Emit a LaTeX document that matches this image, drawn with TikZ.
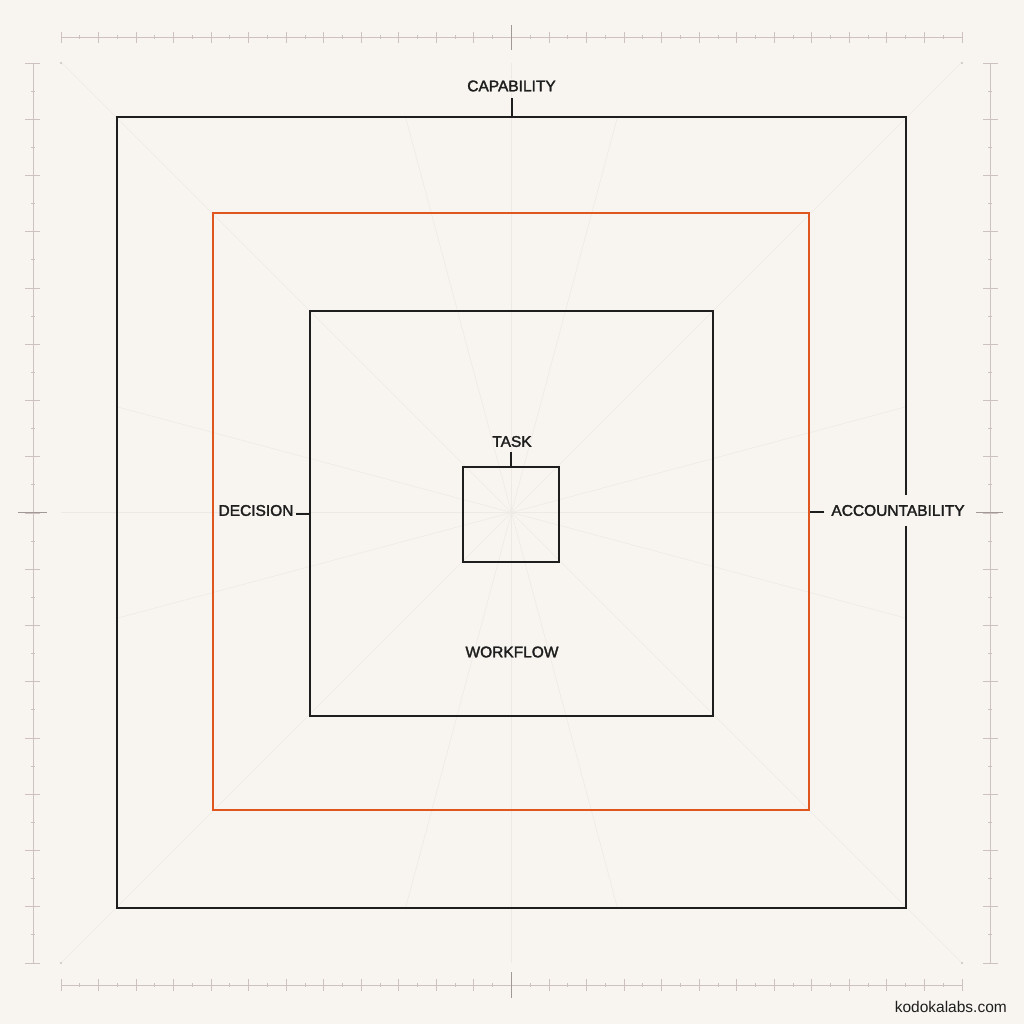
\documentclass[tikz,border=0pt]{standalone}
\usepackage{fontspec}
\setmainfont{Liberation Sans}
\font\lblfont="Liberation Sans:embolden=2" at 15.5pt
\definecolor{paper}{HTML}{F8F5F1}
\definecolor{ink}{HTML}{1E1E1E}
\definecolor{rust}{HTML}{E0561F}
\definecolor{rule}{HTML}{CDC2BD}
\definecolor{faint}{HTML}{EEE9E4}
\tikzset{
  lbl/.style={font=\lblfont, text=ink, inner sep=0pt},
  box/.style={draw=ink, line width=2pt, inner sep=0pt},
  ray/.style={draw=faint, line width=0.6pt},
  ruler/.style={draw=rule, line width=0.9pt}
}
\begin{document}
\begin{tikzpicture}[x=1pt,y=-1pt]
\fill[paper] (0,0) rectangle (1024,1024);
\useasboundingbox (0,0) rectangle (1024,1024);
% guide rays
\coordinate (mid) at (511.5,512.5);
\draw[ray] (511.5,63) -- (511.5,963);
\draw[ray] (61,512.5) -- (962,512.5);
\foreach \a in {45,135,225,315}
  \draw[ray] (mid) -- ++(\a:636);
\foreach \a in {15,75,105,165,195,255,285,345}
  \draw[ray] (mid) -- ++(\a:409);
\foreach \p in {(61,63),(962,63),(61,963),(962,963)}
  \fill[rule] \p circle (1.2);
% rulers
\draw[ruler] (61,37) -- (962,37) (61,985) -- (962,985);
\foreach \k in {0,...,24} {
  \draw[ruler] (61+37.54*\k,32) -- ++(0,11) (61+37.54*\k,979) -- ++(0,12);
}
\foreach \k in {0,...,23} {
  \draw[ruler] (79.77+37.54*\k,35) -- ++(0,4) (79.77+37.54*\k,983) -- ++(0,4);
}
\draw[ruler, line width=1.2pt, draw=rule!75!ink] (511.5,25) -- (511.5,50) (511.5,972) -- (511.5,998);
\draw[ruler] (33,63) -- (33,963) (990,63) -- (990,963);
\foreach \k in {0,...,16} {
  \draw[ruler] (25,63+56.25*\k) -- ++(15,0) (983,63+56.25*\k) -- ++(15,0);
}
\foreach \k in {0,...,15} {
  \draw[ruler] (31,91.1+56.25*\k) -- ++(4,0) (988,91.1+56.25*\k) -- ++(4,0);
}
\draw[ruler, line width=1.2pt, draw=rule!75!ink] (18,512.5) -- (47,512.5) (976,512.5) -- (1003,512.5);
% nested squares
\node[box, minimum width=789, minimum height=791] (capbox) at (511.5,512.5) {};
\node[box, draw=rust, minimum width=596, minimum height=597] (accbox) at (511,511.5) {};
\node[box, minimum width=403, minimum height=405] (flowbox) at (511.5,513.5) {};
\node[box, minimum width=96, minimum height=95] (taskbox) at (511,514.5) {};
% labels
\node[lbl, fill=paper, inner sep=2pt] (cap) at (511.5,86) {CAPABILITY};
\node[lbl, fill=paper, inner xsep=6pt, inner ysep=10pt] (acc) at (898,510.5) {ACCOUNTABILITY};
\node[lbl] (dec) at (256,510.5) {DECISION};
\node[lbl] (task) at (512,441.5) {TASK};
\node[lbl] (flow) at (512,652) {WORKFLOW};
\node[anchor=east, font=\fontsize{15.5}{18}\selectfont, text=ink, inner sep=0pt] (site) at (1007,1007) {kodokalabs.com};
% label ticks
\draw[ink, line width=2pt] (capbox.north) -- ++(0,-18);
\draw[ink, line width=2pt] (accbox.east) -- ++(14,0);
\draw[ink, line width=2pt] (flowbox.west) -- ++(-13,0);
\draw[ink, line width=2pt] (taskbox.north) -- ++(0,-14);
\end{tikzpicture}
\end{document}
